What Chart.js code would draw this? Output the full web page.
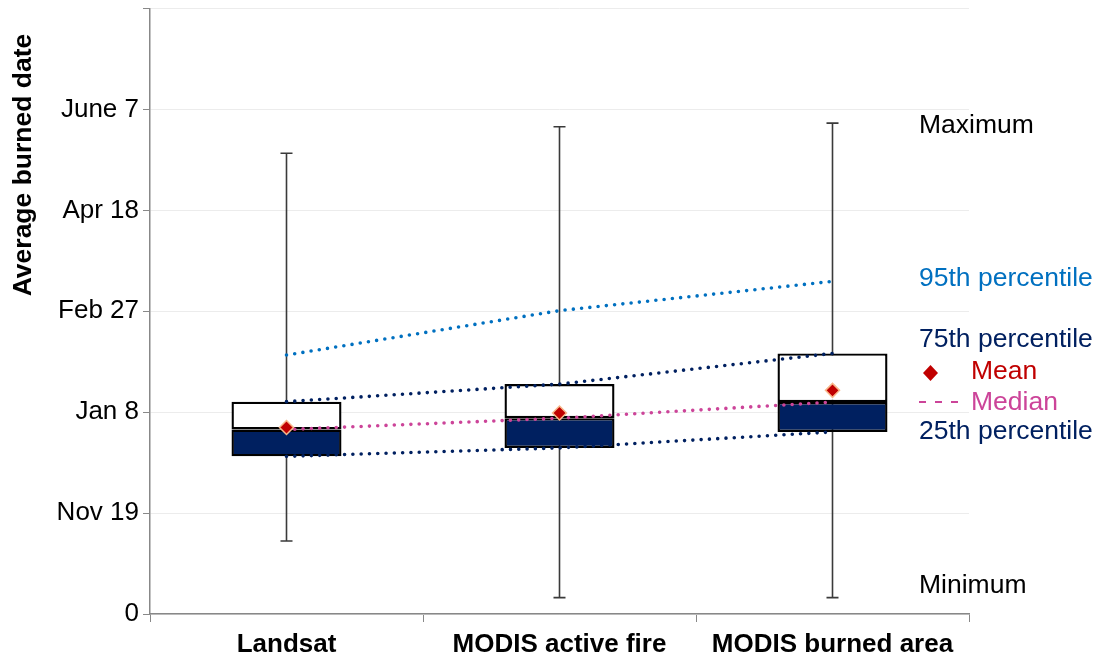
<!DOCTYPE html>
<html>
<head>
<meta charset="utf-8">
<script src="https://cdn.jsdelivr.net/npm/chart.js@4/dist/chart.umd.min.js"></script>
<style>
  html, body { margin: 0; padding: 0; background: #fff; }
  #wrap { width: 1102px; height: 659px; position: relative; }
</style>
</head>
<body>
<div id="wrap"><canvas id="boxChart"></canvas></div>
<script>
// categories
const categories = ['Landsat', 'MODIS active fire', 'MODIS burned area'];

// box plot stats (days, 0 = start of axis)
const maxVals    = [228.3, 241.4, 243.2];
const p95Vals    = [128.3, 150.3, 164.8];
const q75Vals    = [105.2, 113.9, 129.1];
const medianVals = [91.4, 97.0, 105.0];
const meanVals   = [92.4, 99.6, 110.8];
const q25Vals    = [78.1, 82.3, 90.2];
const minVals    = [36.2, 8.1, 8.1];

// y tick labels (every 50 days)
const tickValues = [0, 50, 100, 150, 200, 250, 300];
const tickLabels = ['0', 'Nov 19', 'Jan 8', 'Feb 27', 'Apr 18', 'June 7', ''];

const FONT = 'Liberation Sans, Arial, sans-serif';
const navy = '#002060';

// whiskers drawn under the boxes
const whiskerPlugin = {
    id: 'whiskers',
    beforeDatasetsDraw(chart) {
        const ctx = chart.ctx;
        const x = chart.scales.x, y = chart.scales.y;
        ctx.save();
        ctx.strokeStyle = '#3a3a3a';
        ctx.lineWidth = 1.6;
        categories.forEach((c, i) => {
            const px = x.getPixelForValue(i);
            const top = y.getPixelForValue(maxVals[i]);
            const bot = y.getPixelForValue(minVals[i]);
            ctx.beginPath();
            ctx.moveTo(px, top); ctx.lineTo(px, bot);
            ctx.moveTo(px - 6, top); ctx.lineTo(px + 6, top);
            ctx.moveTo(px - 6, bot); ctx.lineTo(px + 6, bot);
            ctx.stroke();
        });
        ctx.restore();
    }
};

// annotations on the right + rotated y title
const notesPlugin = {
    id: 'notes',
    afterDraw(chart) {
        const ctx = chart.ctx;
        ctx.save();
        ctx.font = '26.5px ' + FONT;
        ctx.textAlign = 'left';
        ctx.textBaseline = 'alphabetic';
        const notes = [
            ['Maximum', '#000000', 919, 133],
            ['95th percentile', '#0070C0', 919, 286],
            ['75th percentile', navy, 919, 347],
            ['Mean', '#C00000', 971, 379],
            ['Median', '#CC4499', 971, 410],
            ['25th percentile', navy, 919, 439],
            ['Minimum', '#000000', 919, 593]
        ];
        notes.forEach(n => {
            ctx.fillStyle = n[1];
            ctx.fillText(n[0], n[2], n[3]);
        });
        // mean diamond
        ctx.fillStyle = '#C00000';
        ctx.beginPath();
        ctx.moveTo(930.5, 365); ctx.lineTo(938, 373); ctx.lineTo(930.5, 381); ctx.lineTo(923, 373);
        ctx.closePath(); ctx.fill();
        // median dashes
        ctx.strokeStyle = '#CC4499';
        ctx.lineWidth = 2;
        ctx.setLineDash([7, 9]);
        ctx.beginPath();
        ctx.moveTo(919, 402); ctx.lineTo(960, 402);
        ctx.stroke();
        ctx.setLineDash([]);
        // y title
        ctx.translate(24, 165);
        ctx.rotate(-Math.PI / 2);
        ctx.textAlign = 'center';
        ctx.textBaseline = 'middle';
        ctx.fillStyle = '#000';
        ctx.font = 'bold 26.5px ' + FONT;
        ctx.fillText('Average burned date', 0, 0);
        ctx.restore();
    }
};

const dotted = (label, data, color) => ({
    type: 'line',
    label: label,
    data: data,
    borderColor: color,
    borderWidth: 3.6,
    borderDash: [0, 8.3],
    borderCapStyle: 'round',
    pointRadius: 0,
    fill: false,
    order: 2
});

const config = {
    type: 'bar',
    data: {
        labels: categories,
        datasets: [
            {
                label: 'Lower box',
                data: categories.map((c, i) => [q25Vals[i], medianVals[i]]),
                backgroundColor: navy,
                borderColor: '#000',
                borderWidth: 2.4,
                borderSkipped: false,
                grouped: false,
                categoryPercentage: 1,
                barPercentage: 0.403,
                order: 3
            },
            {
                label: 'Upper box',
                data: categories.map((c, i) => [medianVals[i], q75Vals[i]]),
                backgroundColor: '#ffffff',
                borderColor: '#000',
                borderWidth: 2.4,
                borderSkipped: false,
                grouped: false,
                categoryPercentage: 1,
                barPercentage: 0.403,
                order: 3
            },
            dotted('95th percentile', p95Vals, '#0070C0'),
            dotted('75th percentile', q75Vals, navy),
            dotted('Median', medianVals, '#CC4499'),
            dotted('25th percentile', q25Vals, navy),
            {
                type: 'line',
                label: 'Mean',
                data: meanVals,
                showLine: false,
                pointStyle: 'rectRot',
                pointRadius: 7,
                pointBackgroundColor: '#C00000',
                pointBorderColor: '#F8B88B',
                pointBorderWidth: 1.5,
                order: 1
            }
        ]
    },
    options: {
        responsive: true,
        maintainAspectRatio: false,
        animation: false,
        layout: {
            padding: { left: 0, right: 133, top: 7, bottom: 0 }
        },
        plugins: {
            legend: { display: false },
            tooltip: { enabled: false }
        },
        scales: {
            x: {
                offset: true,
                afterFit(scale) {
                    scale.height = 45;
                    scale.paddingLeft = 0;
                    scale.paddingRight = 0;
                },
                grid: {
                    offset: true,
                    drawOnChartArea: false,
                    drawTicks: true,
                    tickLength: 8,
                    color: '#888'
                },
                border: { color: '#888', width: 1.5 },
                ticks: {
                    color: '#000',
                    padding: 10,
                    font: { family: FONT, size: 26, weight: 'bold', lineHeight: 1.0 }
                }
            },
            y: {
                min: 0,
                max: 300,
                afterFit(scale) {
                    scale.width = 150;
                    scale.paddingTop = 0;
                    scale.paddingBottom = 0;
                },
                afterBuildTicks(scale) {
                    scale.ticks = tickValues.map(v => ({ value: v }));
                },
                grid: {
                    color: '#ececec',
                    lineWidth: 1,
                    drawTicks: true,
                    tickLength: 7,
                    tickColor: '#888'
                },
                border: { color: '#888', width: 1.5 },
                ticks: {
                    color: '#000',
                    padding: 4,
                    font: { family: FONT, size: 26 },
                    callback: function(value) {
                        const idx = tickValues.indexOf(value);
                        return idx >= 0 ? tickLabels[idx] : '';
                    }
                }
            }
        }
    },
    plugins: [whiskerPlugin, notesPlugin]
};

new Chart(document.getElementById('boxChart').getContext('2d'), config);
</script>
</body>
</html>
